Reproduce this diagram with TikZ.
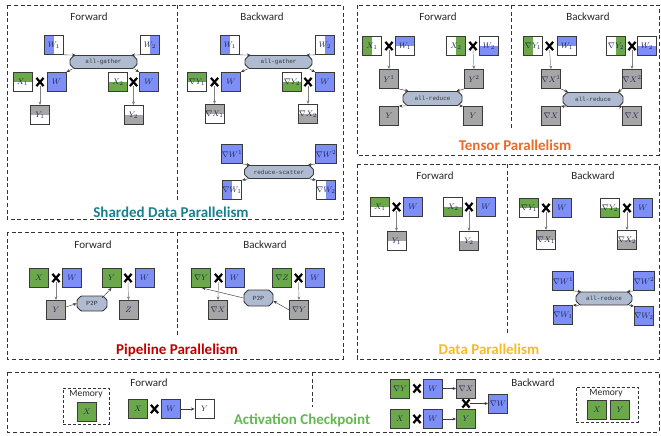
\documentclass[tikz,border=0pt]{standalone}
\usepackage{fontspec}
\setmainfont{Carlito}
\setmonofont{Liberation Mono}
\usetikzlibrary{shapes.misc,arrows.meta,calc}
\definecolor{grn}{HTML}{6AA84A}
\definecolor{blu}{HTML}{7D8FF7}
\definecolor{gry}{HTML}{A6A6A6}
\definecolor{octc}{HTML}{AEBBD0}
\definecolor{boxc}{HTML}{3A3A3A}
\definecolor{teal}{HTML}{17808F}
\definecolor{orng}{HTML}{EA6A2A}
\definecolor{redc}{HTML}{C00000}
\definecolor{yelc}{HTML}{F4BC22}
\definecolor{actc}{HTML}{62B94F}
\definecolor{txtc}{HTML}{1E2550}
\tikzset{
  bx/.style={draw=boxc, line width=0.9pt, minimum size=19pt, inner sep=0pt, fill=white,
    font=\fontsize{8.5}{8.5}\selectfont, text=txtc},
  full/.style={bx, fill=#1},
  tophalf/.style={bx, path picture={\fill[#1] (path picture bounding box.north west) rectangle (path picture bounding box.east);}},
  bothalf/.style={bx, path picture={\fill[#1] (path picture bounding box.west) rectangle (path picture bounding box.south east);}},
  lefthalf/.style={bx, path picture={\fill[#1] (path picture bounding box.north west) rectangle (path picture bounding box.south);}},
  righthalf/.style={bx, path picture={\fill[#1] (path picture bounding box.north) rectangle (path picture bounding box.south east);}},
  oct/.style={chamfered rectangle, chamfered rectangle xsep=2pt, chamfered rectangle ysep=2pt,
    rounded corners=0.8pt,
    draw=boxc, line width=0.9pt, fill=octc, inner sep=1pt, minimum height=13pt,
    font=\fontsize{6}{6}\selectfont\ttfamily, text=boxc},
  ptp/.style={oct, font=\fontsize{6}{6}\selectfont\sffamily\bfseries, text=gray!60!black, minimum height=15pt},
  xm/.style={cross out, draw=black, line width=2.2pt, minimum width=5pt, minimum height=6pt, inner sep=0pt},
  arr/.style={-{Stealth[length=3.5pt,width=3pt]}, line width=0.45pt, draw=boxc},
  arrg/.style={-{Stealth[length=3.5pt,width=3pt]}, line width=0.45pt, draw=gray},
  outer/.style={draw=black!80, line width=0.9pt, dash pattern=on 4pt off 2.6pt},
  memb/.style={draw=black!80, line width=0.8pt, dash pattern=on 3pt off 2pt},
  lab/.style={font=\fontsize{11}{11}\selectfont, text=black!85},
  meml/.style={font=\fontsize{9.5}{10}\selectfont, text=black!85},
  ttl/.style={font=\fontsize{15}{15}\selectfont\bfseries},
}
\begin{document}
\begin{tikzpicture}[x=1pt,y=-1pt]
\useasboundingbox (0,0) rectangle (661,436);
% ---------- outer frames ----------
\draw[outer] (7,5) rectangle (343,219);
\draw[outer] (177,5) -- (177,200);
\draw[outer] (357,5) rectangle (659,155);
\draw[outer] (511,5) -- (511,130);
\draw[outer] (357,164) rectangle (659,359);
\draw[outer] (507,164) -- (507,333);
\draw[outer] (7,232) rectangle (343,359);
\draw[outer] (177,232) -- (177,337);
\draw[outer] (7,372) rectangle (659,432);
\draw[outer] (312,372) -- (312,407);
% ---------- titles ----------
\node[ttl, text=teal] (t1) at (171,212) {Sharded Data Parallelism};
\node[ttl, text=orng] (t2) at (515,145) {Tensor Parallelism};
\node[ttl, text=redc] (t3) at (177,350) {Pipeline Parallelism};
\node[ttl, text=yelc] (t4) at (489,349) {Data Parallelism};
\node[ttl, text=actc] (t5) at (302,420) {Activation Checkpoint};
\node[lab] (l1) at (89,17) {Forward};
\node[lab] (l2) at (262,17) {Backward};
\node[lab] (l3) at (438,17) {Forward};
\node[lab] (l4) at (588,17) {Backward};
\node[lab] (l5) at (435,176) {Forward};
\node[lab] (l6) at (593,176) {Backward};
\node[lab] (l7) at (93,245) {Forward};
\node[lab] (l8) at (265,245) {Backward};
\node[lab] (l9) at (149,383) {Forward};
\node[lab] (l10) at (533,383) {Backward};
% ---------- Sharded forward ----------
\node[lefthalf=blu] (sfW1) at (54,45) {$W_1$};
\node[righthalf=blu] (sfW2) at (150,45) {$W_2$};
\node[oct, minimum width=67pt] (sfag) at (103.5,62) {all-gather};
\node[tophalf=grn] (sfX1) at (22.5,82) {$X_1$};
\node[xm] (sfc1) at (40,82) {};
\node[full=blu] (sfWa) at (56.5,82) {$W$};
\node[tophalf=gry] (sfY1) at (40,115) {$Y_1$};
\node[bothalf=grn] (sfX2) at (118,82) {$X_2$};
\node[xm] (sfc2) at (133.5,82) {};
\node[full=blu] (sfWb) at (149,82) {$W$};
\node[bothalf=gry] (sfY2) at (133.5,115) {$Y_2$};
\draw[arr] (sfW1.south east) -- ([xshift=-28pt]sfag.north);
\draw[arr] ([xshift=-31pt]sfag.south) -- (sfWa.north east);
\draw[arr] (sfW2.south west) -- ([xshift=28pt]sfag.north);
\draw[arr] ([xshift=31pt]sfag.south) -- (sfWb.north west);
\draw[arrg] (sfc1.south) -- (sfY1.north);
\draw[arrg] (sfc2.south) -- (sfY2.north);
% ---------- Sharded backward ----------
\node[lefthalf=blu] (sbW1) at (230,45) {$W_1$};
\node[righthalf=blu] (sbW2) at (325,45) {$W_2$};
\node[oct, minimum width=67pt] (sbag) at (278.5,62) {all-gather};
\node[tophalf=grn] (sbdY1) at (197,82) {$\nabla Y_1$};
\node[xm] (sbc1) at (214.5,82) {};
\node[full=blu] (sbWa) at (231,82) {$W$};
\node[tophalf=gry] (sbdX1) at (214.5,114) {$\nabla X_1$};
\node[bothalf=grn] (sbdY2) at (292,82) {$\nabla Y_2$};
\node[xm] (sbc2) at (308,82) {};
\node[full=blu] (sbWb) at (325,82) {$W$};
\node[bothalf=gry] (sbdX2) at (308,114) {$\nabla X_2$};
\draw[arr] (sbW1.south east) -- ([xshift=-28pt]sbag.north);
\draw[arr] ([xshift=-31pt]sbag.south) -- (sbWa.north east);
\draw[arr] (sbW2.south west) -- ([xshift=28pt]sbag.north);
\draw[arr] ([xshift=31pt]sbag.south) -- (sbWb.north west);
\draw[arrg] (sbc1.south) -- (sbdX1.north);
\draw[arrg] (sbc2.south) -- (sbdX2.north);
\node[full=blu] (sbdWa) at (232,154) {$\nabla W^1$};
\node[full=blu] (sbdWb) at (326,154) {$\nabla W^2$};
\node[oct, minimum width=69pt] (sbrs) at (279,172) {reduce-scatter};
\node[lefthalf=blu] (sbdW1) at (232,190) {$\nabla W_1$};
\node[righthalf=blu] (sbdW2) at (326,190) {$\nabla W_2$};
\draw[arr] (sbdWa.south east) -- ([xshift=-29pt]sbrs.north);
\draw[arr] ([xshift=-31pt]sbrs.south) -- (sbdW1.north east);
\draw[arr] (sbdWb.south west) -- ([xshift=29pt]sbrs.north);
\draw[arr] ([xshift=31pt]sbrs.south) -- (sbdW2.north west);
% ---------- Tensor forward ----------
\node[lefthalf=grn] (tfX1) at (372,46) {$X_1$};
\node[xm] (tfc1) at (389,46) {};
\node[tophalf=blu] (tfW1) at (405,46) {$W_1$};
\node[righthalf=grn] (tfX2) at (456,46) {$X_2$};
\node[xm] (tfc2) at (473,46) {};
\node[bothalf=blu] (tfW2) at (489,46) {$W_2$};
\node[full=gry] (tfY1) at (389,79) {$Y^1$};
\node[full=gry] (tfY2) at (474,79) {$Y^2$};
\node[oct, minimum width=59pt, minimum height=14pt] (tfar) at (432.5,98.5) {all-reduce};
\node[full=gry] (tfYa) at (389,116) {$Y$};
\node[full=gry] (tfYb) at (473,116) {$Y$};
\draw[arrg] (tfc1.south) -- (tfY1.north);
\draw[arrg] (tfc2.south) -- (tfY2.north);
\draw[arr] (tfY1.south east) -- ([xshift=-24pt]tfar.north);
\draw[arr] ([xshift=-27pt]tfar.south) -- (tfYa.north east);
\draw[arr] (tfY2.south west) -- ([xshift=24pt]tfar.north);
\draw[arr] ([xshift=27pt]tfar.south) -- (tfYb.north west);
% ---------- Tensor backward ----------
\node[lefthalf=grn] (tbdY1) at (533,46) {$\nabla Y_1$};
\node[xm] (tbc1) at (549.5,46) {};
\node[tophalf=blu] (tbW1) at (567,46) {$W_1$};
\node[righthalf=grn] (tbdY2) at (616,46) {$\nabla Y_2$};
\node[xm] (tbc2) at (632,46) {};
\node[bothalf=blu] (tbW2) at (647,46) {$W_2$};
\node[full=gry] (tbdX1) at (551,79) {$\nabla X^1$};
\node[full=gry] (tbdX2) at (632,79) {$\nabla X^2$};
\node[oct, minimum width=60pt, minimum height=14pt] (tbar) at (593,99.5) {all-reduce};
\node[full=gry] (tbdXa) at (551,116) {$\nabla X$};
\node[full=gry] (tbdXb) at (632,116) {$\nabla X$};
\draw[arrg] (tbc1.south) -- ([xshift=0pt]tbdX1.north);
\draw[arrg] (tbc2.south) -- (tbdX2.north);
\draw[arr] (tbdX1.south east) -- ([xshift=-25pt]tbar.north);
\draw[arr] ([xshift=-27pt]tbar.south) -- (tbdXa.north east);
\draw[arr] (tbdX2.south west) -- ([xshift=25pt]tbar.north);
\draw[arr] ([xshift=27pt]tbar.south) -- (tbdXb.north west);
% ---------- Data forward ----------
\node[tophalf=grn] (dfX1) at (380,207) {$X_1$};
\node[xm] (dfc1) at (396.5,207) {};
\node[full=blu] (dfW) at (413,207) {$W$};
\node[tophalf=gry] (dfY1) at (396.5,241) {$Y_1$};
\node[bothalf=grn] (dfX2) at (453,207) {$X_2$};
\node[xm] (dfc2) at (469,207) {};
\node[full=blu] (dfWb) at (486,207) {$W$};
\node[bothalf=gry] (dfY2) at (469,241) {$Y_2$};
\draw[arrg] (dfc1.south) -- (dfY1.north);
\draw[arrg] (dfc2.south) -- (dfY2.north);
% ---------- Data backward ----------
\node[tophalf=grn] (dbdY1) at (529,208) {$\nabla Y_1$};
\node[xm] (dbc1) at (546,208) {};
\node[full=blu] (dbW) at (562,208) {$W$};
\node[tophalf=gry] (dbdX1) at (546,240) {$\nabla X_1$};
\node[bothalf=grn] (dbdY2) at (610,208) {$\nabla Y_2$};
\node[xm] (dbc2) at (627,208) {};
\node[full=blu] (dbWb) at (643,208) {$W$};
\node[bothalf=gry] (dbdX2) at (627,240) {$\nabla X_2$};
\draw[arrg] (dbc1.south) -- (dbdX1.north);
\draw[arrg] (dbc2.south) -- (dbdX2.north);
\node[full=blu] (dbdWa) at (563,281) {$\nabla W^1$};
\node[full=blu] (dbdWb) at (644,281) {$\nabla W^2$};
\node[oct, minimum width=56pt, minimum height=13pt] (dbar) at (604,298.5) {all-reduce};
\node[full=blu] (dbdW1) at (563,315) {$\nabla W_1$};
\node[full=blu] (dbdW2) at (644,316) {$\nabla W_2$};
\draw[arr] (dbdWa.south east) -- ([xshift=-23pt]dbar.north);
\draw[arr] ([xshift=-25pt]dbar.south) -- (dbdW1.north east);
\draw[arr] (dbdWb.south west) -- ([xshift=23pt]dbar.north);
\draw[arr] ([xshift=25pt]dbar.south) -- (dbdW2.north west);
% ---------- Pipeline forward ----------
\node[full=grn] (pfX) at (39,278) {$X$};
\node[xm] (pfc1) at (56,278) {};
\node[full=blu] (pfW) at (72,278) {$W$};
\node[full=gry] (pfY) at (56,310) {$Y$};
\node[ptp, minimum width=30pt] (pfp) at (92,303.5) {P2P};
\node[full=grn] (pfYg) at (111.5,278) {$Y$};
\node[xm] (pfc2) at (128,278) {};
\node[full=blu] (pfW2) at (144.5,278) {$W$};
\node[full=gry] (pfZ) at (128.5,310) {$Z$};
\draw[arrg] (pfc1.south) -- (pfY.north);
\draw[arrg] (pfc2.south) -- (pfZ.north);
\draw[arr] ([yshift=3pt]pfY.east) -- (pfp.west);
\draw[arr] ([xshift=-3pt]pfp.north east) -- (pfYg.south);
% ---------- Pipeline backward ----------
\node[full=grn] (pbdY) at (201,278) {$\nabla Y$};
\node[xm] (pbc1) at (218.5,278) {};
\node[full=blu] (pbW) at (234.5,278) {$W$};
\node[full=gry] (pbdX) at (218,310) {$\nabla X$};
\node[ptp, minimum width=29pt, minimum height=16pt] (pbp) at (258.5,298) {P2P};
\node[full=grn] (pbdZ) at (282,278) {$\nabla Z$};
\node[xm] (pbc2) at (298.5,278) {};
\node[full=blu] (pbW2) at (315,278) {$W$};
\node[full=gry] (pbdY2) at (299,310) {$\nabla Y$};
\draw[arrg] (pbc1.south) -- (pbdX.north);
\draw[arrg] (pbc2.south) -- (pbdY2.north);
\draw[arr] (pbdY2.west) -- ([yshift=-3pt]pbp.east);
\draw[arr] (pbp.west) -- ([xshift=1pt]pbdY.south);
% ---------- Activation forward ----------
\node[memb, minimum width=46pt, minimum height=36pt, inner sep=0pt] (mem1) at (86,406) {};
\node[meml] (mem1l) at (86,394.5) {Memory};
\node[full=grn] (amX) at (87,411.5) {$X$};
\node[full=grn] (afX) at (138,409) {$X$};
\node[xm] (afc) at (154.5,409) {};
\node[full=blu] (afW) at (171,409) {$W$};
\node[bx] (afY) at (204.5,409) {$Y$};
\draw[arr] (afW.east) -- (afY.west);
% ---------- Activation backward ----------
\node[full=grn] (abdY) at (400,388.5) {$\nabla Y$};
\node[xm] (abc1) at (417,388.5) {};
\node[full=blu] (abW1) at (433,388.5) {$W$};
\node[full=gry] (abdX) at (466,388.5) {$\nabla X$};
\node[xm] (abc3) at (466,403.5) {};
\node[full=blu] (abdW) at (498,403.5) {$\nabla W$};
\node[full=grn] (abX) at (400,419) {$X$};
\node[xm] (abc2) at (417,419) {};
\node[full=blu] (abW2) at (433,419) {$W$};
\node[full=grn] (abY) at (466,419) {$Y$};
\draw[arr] (abW1.east) -- (abdX.west);
\draw[arr] (abW2.east) -- (abY.west);
\draw[arr] (abc3.east) -- (abdW.west);
\node[memb, minimum width=62pt, minimum height=35pt, inner sep=0pt] (mem2) at (607,404.5) {};
\node[meml] (mem2l) at (606,393) {Memory};
\node[full=grn] (amX2) at (597,410) {$X$};
\node[full=grn] (amY2) at (620,410) {$Y$};
\end{tikzpicture}
\end{document}
